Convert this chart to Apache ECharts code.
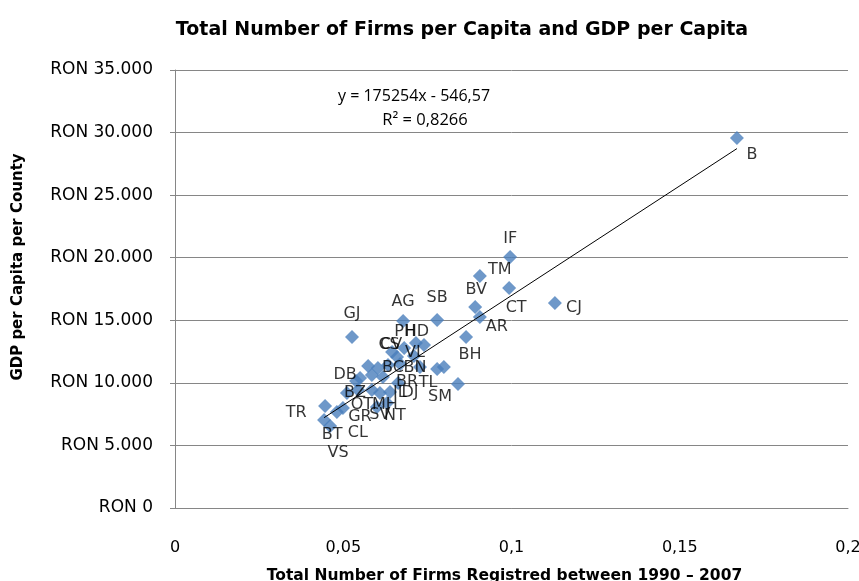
<!DOCTYPE html>
<html>
<head>
<meta charset="utf-8">
<script src="https://cdn.jsdelivr.net/npm/echarts@6/dist/echarts.min.js"></script>
<style>html,body{margin:0;padding:0;background:#fff;}#c{width:859px;height:581px;}</style>
</head>
<body>
<div id="c"></div>
<script>
// ---- data ----
const counties = ['B','IF','TM','CT','CJ','BV','AR','SB','AG','GJ','BH','PH','HD','CS','CV','VL','AB','BC','BN','TL','MS','HR','SJ','IS','DB','BR','MM','VN','DJ','IL','MH','BZ','OT','SV','NT','GL','SM','GR','CL','TR','BT','VS'];
const firmsPerCapita = [0.1670,0.0996,0.0906,0.0993,0.1129,0.0892,0.0906,0.0779,0.0678,0.0526,0.0865,0.0681,0.0740,0.0645,0.0660,0.0710,0.0716,0.0633,0.0728,0.0779,0.0799,0.0669,0.0603,0.0574,0.0538,0.0663,0.0618,0.0585,0.0639,0.0609,0.0585,0.0544,0.0511,0.0600,0.0630,0.0550,0.0841,0.0499,0.0481,0.0446,0.0443,0.0461];
const gdpPerCapita = [29570,20060,18540,17580,16380,16060,15260,15020,14940,13660,13660,12790,13030,12470,12070,12150,13190,11430,11270,11110,11270,11510,11190,11350,10150,9990,10470,10630,9270,9190,9430,9430,9190,8070,8390,10390,9910,7990,7670,8150,7030,6550];
const yTicks = [0,5000,10000,15000,20000,25000,30000,35000];
const xTicks = [0,0.05,0.1,0.15,0.2];
const trendSlope = 175254;
const trendIntercept = -546.57;
const equationText = 'y = 175254x - 546,57';
const r2Text = 'R² = 0,8266';

// ---- label placement (styling, keyed by county) ----
const labelOffsets = {
  B:[15,17], IF:[0,-18], TM:[20,-6], CT:[7,20], CJ:[19,5], BV:[1,-17], AR:[17,10],
  SB:[0,-22], AG:[0,-19], GJ:[0,-23], BH:[4,18], PH:[1,-16], HD:[-7,-13],
  CS:[-3,-7], CV:[-6,-12], VL:[1,-3], BC:[5,3], BN:[-5,1], TL:[-9,14], BR:[9,-1],
  DJ:[20,1], IL:[20,0], SM:[-18,13], DB:[-11,-6], BZ:[-3,3], OT:[15,12], MH:[13,15],
  SV:[3,8], NT:[8,13], GR:[17,9], CL:[21,21], BT:[8,15], TR:[-29,7], VS:[8,27]
};

const pts = counties.map((n, i) => {
  const off = labelOffsets[n];
  return {
    name: n,
    value: [firmsPerCapita[i], gdpPerCapita[i]],
    label: off ? { show: true, position: 'inside', offset: off } : { show: false }
  };
});
const xMin = Math.min(...firmsPerCapita), xMax = Math.max(...firmsPerCapita);
const trend = [[xMin, trendSlope * xMin + trendIntercept], [xMax, trendSlope * xMax + trendIntercept]];

const chart = echarts.init(document.getElementById('c'), null, {renderer: 'canvas'});
const grid = '#868686';
chart.setOption({
  animation: false,
  backgroundColor: '#fff',
  title: {
    text: 'Total Number of Firms per Capita and GDP per Capita',
    left: 457, top: 16, textAlign: 'center',
    textStyle: { fontFamily: 'DejaVu Sans', fontWeight: 'bold', fontSize: 19, color: '#000' }
  },
  grid: { left: 175, right: 11, top: 70, bottom: 73, containLabel: false, outerBoundsMode: 'none' },
  xAxis: {
    type: 'value', min: 0, max: 0.2, interval: 0.05,
    name: 'Total Number of Firms Registred between 1990 – 2007',
    nameLocation: 'middle', nameGap: 60,
    nameTextStyle: { fontFamily: 'DejaVu Sans', fontWeight: 'bold', fontSize: 15.5, color: '#000', padding: [0, 14, 0, 0] },
    axisLine: { show: true, lineStyle: { color: grid, width: 1 } },
    axisTick: { show: false },
    splitLine: { show: false },
    axisLabel: {
      margin: 32, fontFamily: 'DejaVu Sans', fontSize: 16, color: '#000',
      formatter: v => xTicks.includes(+v.toFixed(2)) ? String(+v.toFixed(2)).replace('.', ',') : ''
    }
  },
  yAxis: {
    type: 'value', min: 0, max: 35000, interval: 5000,
    axisLine: { show: true, lineStyle: { color: grid, width: 1 } },
    axisTick: { show: true, length: 5, lineStyle: { color: grid } },
    splitLine: { show: true, lineStyle: { color: grid, width: 1 } },
    axisLabel: {
      margin: 22, fontFamily: 'DejaVu Sans', fontSize: 17, color: '#000',
      formatter: v => yTicks.includes(v) ? 'RON ' + String(v).replace(/\B(?=(\d{3})+(?!\d))/g, '.') : ''
    }
  },
  series: [
    {
      type: 'line', data: trend, symbol: 'none', silent: true,
      lineStyle: { color: '#000', width: 1 }, z: 3
    },
    {
      type: 'scatter', data: pts, symbol: 'diamond', symbolSize: 14,
      itemStyle: { color: '#4A7EBB' }, z: 2,
      label: {
        formatter: p => p.name, fontFamily: 'DejaVu Sans', fontSize: 16, color: '#000'
      }
    }
  ],
  graphic: [
    { type: 'text', x: 18, y: 267, rotation: Math.PI / 2,
      style: { text: 'GDP per Capita per County', fontFamily: 'DejaVu Sans', fontWeight: 'bold', fontSize: 15, fill: '#000', align: 'center', verticalAlign: 'middle' } },
    { type: 'text', x: 414, y: 96, style: { text: equationText, fontFamily: 'Open Sans', fontSize: 16, fill: '#000', align: 'center', verticalAlign: 'middle' } },
    { type: 'text', x: 425, y: 120, style: { text: r2Text, fontFamily: 'Open Sans', fontSize: 16.5, fill: '#000', align: 'center', verticalAlign: 'middle' } }
  ]
});
</script>
</body>
</html>
